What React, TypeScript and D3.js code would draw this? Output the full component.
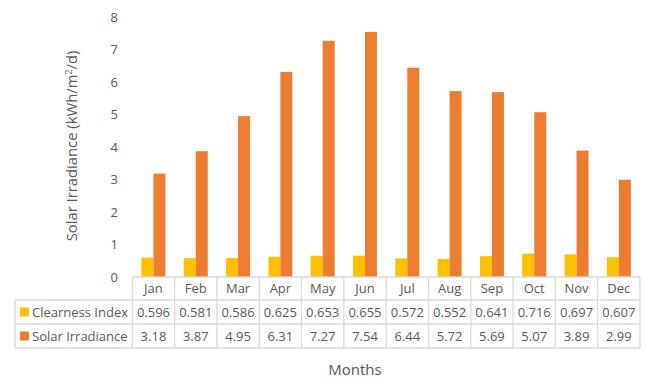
import React from "react";
import * as d3 from "d3";

const months = ["Jan","Feb","Mar","Apr","May","Jun","Jul","Aug","Sep","Oct","Nov","Dec"];
const clearness = [0.596,0.581,0.586,0.625,0.653,0.655,0.572,0.552,0.641,0.716,0.697,0.607];
const irradiance = [3.18,3.87,4.95,6.31,7.27,7.54,6.44,5.72,5.69,5.07,3.89,2.99];
const clearnessLabels = ["0.596","0.581","0.586","0.625","0.653","0.655","0.572","0.552","0.641","0.716","0.697","0.607"];
const irradianceLabels = ["3.18","3.87","4.95","6.31","7.27","7.54","6.44","5.72","5.69","5.07","3.89","2.99"];
const yTicks = [0,1,2,3,4,5,6,7,8];
const seriesNames = ["Clearness Index","Solar Irradiance"];
const colors = ["#FFC000","#ED7D31"];

export default function App() {
  const W = 660, H = 391;
  const left = 132.3, right = 640, top = 17, bottom = 277;
  const x = d3.scaleBand<string>().domain(months).range([left, right]).paddingInner(0).paddingOuter(0);
  const y = d3.scaleLinear().domain([0, 8]).range([bottom, top]);
  const barW = 12;
  const font = "'Open Sans', sans-serif";
  const txt = "#595959";
  const grid = "#d9d9d9";
  const rowTops = [bottom, 300, 324, 348];
  const legendLeft = 15;
  const labels = [clearnessLabels, irradianceLabels];
  return (
    <svg width={W} height={H} style={{ position: "absolute", left: 0, top: 0 }} fontFamily={font}>
      <rect width={W} height={H} fill="#fff" />
      {yTicks.map(t => (
        <text key={t} x={118} y={y(t)} dy="0.35em" textAnchor="end" fontSize={13} fill={txt}>{t}</text>
      ))}
      <text transform={`translate(77,146) rotate(-90)`} textAnchor="middle" fontSize={14.8} fill={txt}>
        Solar Irradiance (kWh/m<tspan dy="-5" fontSize={9}>2</tspan><tspan dy="5">/d)</tspan>
      </text>
      {months.map((m, i) => {
        const cx = x(m)! + x.bandwidth() / 2;
        return (
          <g key={m}>
            <rect x={cx - barW} y={y(clearness[i])} width={barW} height={bottom - y(clearness[i])} fill={colors[0]} />
            <rect x={cx} y={y(irradiance[i])} width={barW} height={bottom - y(irradiance[i])} fill={colors[1]} />
          </g>
        );
      })}
      <g stroke={grid} strokeWidth={1.3} fill="none">
        <line x1={left} x2={right} y1={rowTops[0]} y2={rowTops[0]} />
        <line x1={legendLeft} x2={right} y1={rowTops[1]} y2={rowTops[1]} />
        <line x1={legendLeft} x2={right} y1={rowTops[2]} y2={rowTops[2]} />
        <line x1={legendLeft} x2={right} y1={rowTops[3]} y2={rowTops[3]} />
        <line x1={legendLeft} x2={legendLeft} y1={rowTops[1]} y2={rowTops[3]} />
        {months.map(m => (
          <line key={m} x1={x(m)!} x2={x(m)!} y1={rowTops[0]} y2={rowTops[3]} />
        ))}
        <line x1={right} x2={right} y1={rowTops[0]} y2={rowTops[3]} />
      </g>
      {months.map(m => (
        <text key={m} x={x(m)! + x.bandwidth() / 2} y={(rowTops[0] + rowTops[1]) / 2} dy="0.35em" textAnchor="middle" fontSize={13} fill={txt}>{m}</text>
      ))}
      {seriesNames.map((s, r) => {
        const cy = (rowTops[r + 1] + rowTops[r + 2]) / 2;
        return (
          <g key={s}>
            <rect x={20} y={cy - 4.5} width={9} height={9} fill={colors[r]} />
            <text x={32} y={cy} dy="0.35em" fontSize={13} fill={txt}>{s}</text>
            {months.map((m, i) => (
              <text key={m} x={x(m)! + x.bandwidth() / 2} y={cy} dy="0.35em" textAnchor="middle" fontSize={13} fill={txt}>{labels[r][i]}</text>
            ))}
          </g>
        );
      })}
      <text x={355} y={370} dy="0.35em" textAnchor="middle" fontSize={15} fill={txt}>Months</text>
    </svg>
  );
}
